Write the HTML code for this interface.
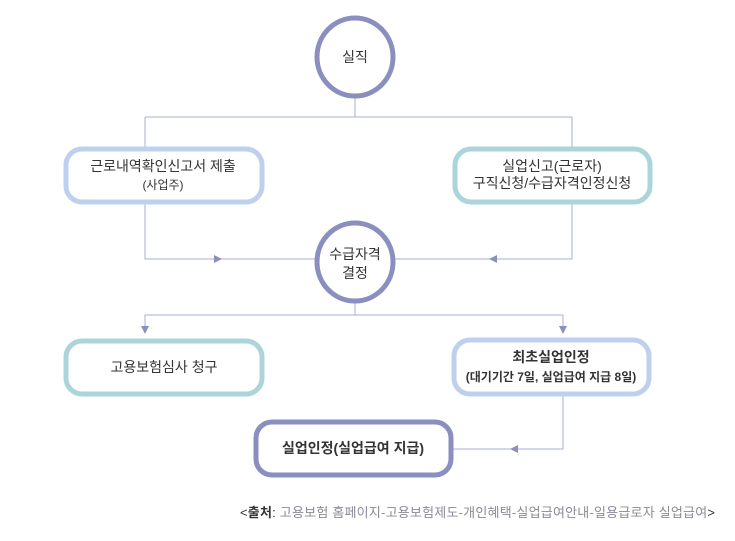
<!DOCTYPE html>
<html><head><meta charset="utf-8"><style>
html,body{margin:0;padding:0;background:#fff;}
svg{display:block;}
text{font-family:"Liberation Sans","Noto Sans CJK KR",sans-serif;fill:#333;}
</style></head><body>
<svg width="735" height="541" viewBox="0 0 735 541" xmlns="http://www.w3.org/2000/svg">
<g stroke="#a9acd4" stroke-width="1" fill="none">
<path d="M355 97V117M145 117H572M145 117V148M572 117V148"/>
<path d="M145 203V259H316M572 203V259H394"/>
<path d="M355 302V315M145 315H563M145 315V333M563 315V333"/>
<path d="M563 395V449H453"/>
</g>
<g fill="#8a8fbf">
<path d="M214 255L222 259L214 263Z"/>
<path d="M497 255L489 259L497 263Z"/>
<path d="M141 326L145 334L149 326Z"/>
<path d="M559 326L563 334L567 326Z"/>
<path d="M518 445L510 449L518 453Z"/>
</g>
<ellipse cx="355" cy="57" rx="38" ry="39" fill="#fff" stroke="#8a8fbf" stroke-width="5"/>
<ellipse cx="355" cy="262" rx="38" ry="39" fill="#fff" stroke="#8a8fbf" stroke-width="5"/>
<rect x="66" y="149" width="196" height="53" rx="16" fill="#fff" stroke="#bfd0ee" stroke-width="5"/>
<rect x="455" y="149" width="195" height="53" rx="16" fill="#fff" stroke="#acd5da" stroke-width="5"/>
<rect x="66" y="341" width="196" height="53" rx="16" fill="#fff" stroke="#acd5da" stroke-width="5"/>
<rect x="454" y="340" width="195" height="54" rx="16" fill="#fff" stroke="#bfd0ee" stroke-width="5"/>
<rect x="256" y="422" width="195" height="53" rx="16" fill="#fff" stroke="#8a8fbf" stroke-width="5"/>
<g text-anchor="middle" font-size="14">
<text x="355" y="62">실직</text>
<text x="355" y="259">수급자격</text>
<text x="355" y="278">결정</text>
<text x="163" y="171">근로내역확인신고서 제출</text>
<text x="163" y="189" font-size="12">(사업주)</text>
<text x="552" y="171">실업신고(근로자)</text>
<text x="552" y="188">구직신청/수급자격인정신청</text>
<text x="164" y="372">고용보험심사 청구</text>
<text x="551" y="362" font-weight="bold">최초실업인정</text>
<text x="551" y="381" font-size="12" font-weight="bold">(대기기간 7일, 실업급여 지급 8일)</text>
<text x="353" y="453" font-weight="bold">실업인정(실업급여 지급)</text>
</g>
<text x="240" y="517" font-size="13" textLength="475" lengthAdjust="spacing"><tspan>&lt;</tspan><tspan font-weight="bold">출처</tspan><tspan>: </tspan><tspan style="fill:#8a8a99">고용보험 홈페이지-고용보험제도-개인혜택-실업급여안내-일용급로자 실업급여</tspan><tspan>&gt;</tspan></text>
</svg>
</body></html>
